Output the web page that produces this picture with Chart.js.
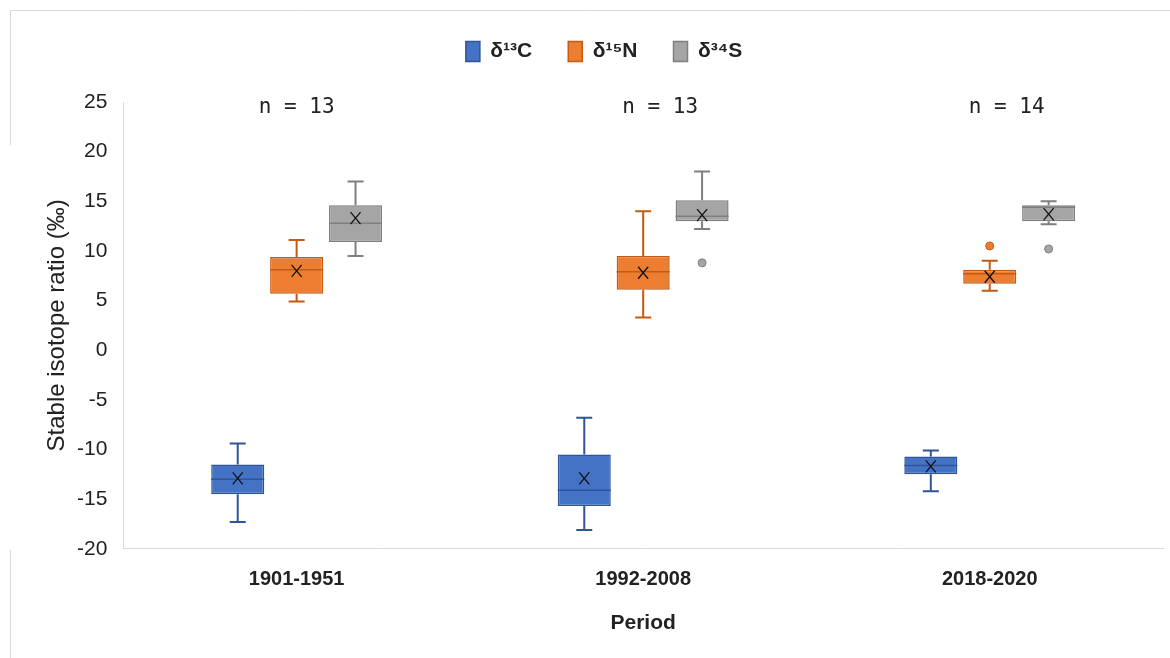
<!DOCTYPE html>
<html>
<head>
<meta charset="utf-8">
<script src="https://cdn.jsdelivr.net/npm/chart.js@4.4.1/dist/chart.umd.min.js"></script>
<style>
  html, body { margin: 0; padding: 0; background: #fff; }
  #wrap { width: 1170px; height: 658px; position: relative; }
</style>
</head>
<body>
<div id="wrap"><canvas id="chart" width="1170" height="658"></canvas></div>
<script>
// categories and counts
const periods = ['1901-1951', '1992-2008', '2018-2020'];
const sampleCounts = [13, 13, 14];
const seriesNames = ['δ¹³C', 'δ¹⁵N', 'δ³⁴S'];

// box plot values per series, one entry per period
const carbonMin    = [-17.3, -18.1, -14.2];
const carbonQ1     = [-14.5, -15.7, -12.5];
const carbonMedian = [-13.0, -14.1, -11.6];
const carbonQ3     = [-11.5, -10.5, -10.7];
const carbonMax    = [-9.4, -6.8, -10.1];
const carbonMean   = [-12.9, -12.9, -11.7];
const carbonOut    = [[], [], []];

const nitrogenMin    = [4.9, 3.3, 6.0];
const nitrogenQ1     = [5.7, 6.1, 6.7];
const nitrogenMedian = [8.1, 7.9, 7.7];
const nitrogenQ3     = [9.4, 9.5, 8.1];
const nitrogenMax    = [11.1, 14.0, 9.0];
const nitrogenMean   = [8.0, 7.8, 7.4];
const nitrogenOut    = [[], [], [10.5]];

const sulfurMin    = [9.5, 12.2, 12.7];
const sulfurQ1     = [10.9, 13.0, 13.0];
const sulfurMedian = [12.8, 13.5, 14.4];
const sulfurQ3     = [14.6, 15.1, 14.6];
const sulfurMax    = [17.0, 18.0, 15.0];
const sulfurMean   = [13.3, 13.6, 13.7];
const sulfurOut    = [[], [8.8], [10.2]];

const yTicks = { min: -20, max: 25, step: 5 };

const fills   = ['#4472C4', '#ED7D31', '#A5A5A5'];
const strokes = ['#2F5597', '#C55A11', '#7F7F7F'];

const stats = [
    { min: carbonMin, q1: carbonQ1, med: carbonMedian, q3: carbonQ3, max: carbonMax, mean: carbonMean, out: carbonOut },
    { min: nitrogenMin, q1: nitrogenQ1, med: nitrogenMedian, q3: nitrogenQ3, max: nitrogenMax, mean: nitrogenMean, out: nitrogenOut },
    { min: sulfurMin, q1: sulfurQ1, med: sulfurMedian, q3: sulfurQ3, max: sulfurMax, mean: sulfurMean, out: sulfurOut }
];

// legend needs extra room below it for the n = labels
const legendSpace = {
    id: 'legendSpace',
    beforeInit(chart) {
        const fit = chart.legend.fit;
        chart.legend.fit = function () {
            fit.bind(chart.legend)();
            this.height += 30;
        };
    }
};

// whiskers, medians, means, outliers and n labels
const boxExtras = {
    id: 'boxExtras',
    afterDatasetsDraw(chart) {
        const ctx = chart.ctx;
        const y = chart.scales.y;
        stats.forEach((s, di) => {
            const meta = chart.getDatasetMeta(di);
            meta.data.forEach((bar, i) => {
                const cx = bar.x;
                const half = bar.width / 2;
                ctx.save();
                ctx.strokeStyle = strokes[di];
                ctx.lineWidth = 2;
                ctx.beginPath();
                // upper whisker
                ctx.moveTo(cx, y.getPixelForValue(s.q3[i]));
                ctx.lineTo(cx, y.getPixelForValue(s.max[i]));
                ctx.moveTo(cx - 8, y.getPixelForValue(s.max[i]));
                ctx.lineTo(cx + 8, y.getPixelForValue(s.max[i]));
                // lower whisker
                ctx.moveTo(cx, y.getPixelForValue(s.q1[i]));
                ctx.lineTo(cx, y.getPixelForValue(s.min[i]));
                ctx.moveTo(cx - 8, y.getPixelForValue(s.min[i]));
                ctx.lineTo(cx + 8, y.getPixelForValue(s.min[i]));
                ctx.stroke();
                // median
                ctx.beginPath();
                ctx.lineWidth = 1.5;
                ctx.moveTo(cx - half, y.getPixelForValue(s.med[i]));
                ctx.lineTo(cx + half, y.getPixelForValue(s.med[i]));
                ctx.stroke();
                // mean marker
                const my = y.getPixelForValue(s.mean[i]);
                ctx.beginPath();
                ctx.strokeStyle = '#111';
                ctx.lineWidth = 1.3;
                ctx.moveTo(cx - 5, my - 6);
                ctx.lineTo(cx + 5, my + 6);
                ctx.moveTo(cx + 5, my - 6);
                ctx.lineTo(cx - 5, my + 6);
                ctx.stroke();
                // outliers
                s.out[i].forEach(v => {
                    ctx.beginPath();
                    ctx.fillStyle = fills[di];
                    ctx.strokeStyle = strokes[di];
                    ctx.lineWidth = 1;
                    ctx.arc(cx, y.getPixelForValue(v), 4, 0, Math.PI * 2);
                    ctx.fill();
                    ctx.stroke();
                });
                ctx.restore();
            });
        });

        // n = labels
        const x = chart.scales.x;
        ctx.save();
        ctx.font = '21px "DejaVu Sans Mono"';
        ctx.fillStyle = '#222';
        ctx.textAlign = 'center';
        ctx.textBaseline = 'middle';
        sampleCounts.forEach((n, i) => {
            ctx.fillText('n = ' + n, x.getPixelForValue(i) + (i === 0 ? 0 : 17), 108);
        });
        ctx.restore();
    },
    beforeDraw(chart) {
        // light frame of the original figure
        const ctx = chart.ctx;
        ctx.save();
        ctx.strokeStyle = '#d9d9d9';
        ctx.lineWidth = 1;
        ctx.beginPath();
        ctx.moveTo(10.5, 658);
        ctx.lineTo(10.5, 550);
        ctx.moveTo(10.5, 145);
        ctx.lineTo(10.5, 10.5);
        ctx.lineTo(1170, 10.5);
        ctx.stroke();
        ctx.restore();
    }
};

const datasets = stats.map((s, di) => ({
    label: seriesNames[di],
    data: s.q1.map((v, i) => [v, s.q3[i]]),
    backgroundColor: fills[di],
    borderColor: strokes[di],
    borderWidth: 1.5,
    borderSkipped: false,
    categoryPercentage: 0.51,
    barPercentage: 0.9
}));

new Chart(document.getElementById('chart'), {
    type: 'bar',
    data: { labels: periods, datasets: datasets },
    options: {
        responsive: false,
        animation: false,
        layout: { padding: { top: 5, right: 7, left: 45, bottom: 18 } },
        plugins: {
            legend: {
                position: 'top',
                labels: {
                    boxWidth: 14,
                    boxHeight: 20,
                    padding: 36,
                    color: '#222',
                    font: { family: '"Liberation Sans", Arial', size: 21, weight: 'bold' }
                }
            },
            tooltip: { enabled: false }
        },
        scales: {
            x: {
                grid: { display: false },
                border: { color: '#d9d9d9' },
                ticks: {
                    color: '#222',
                    padding: 11,
                    font: { family: '"Liberation Sans", Arial', size: 20, weight: 'bold' }
                },
                title: {
                    display: true,
                    text: 'Period',
                    color: '#222',
                    padding: { top: 8 },
                    font: { family: '"Liberation Sans", Arial', size: 21, weight: 'bold' }
                }
            },
            y: {
                min: yTicks.min,
                max: yTicks.max,
                grid: { display: false },
                border: { color: '#d9d9d9' },
                ticks: {
                    stepSize: yTicks.step,
                    color: '#222',
                    padding: 8,
                    font: { family: '"Liberation Sans", Arial', size: 21 }
                },
                title: {
                    display: true,
                    text: 'Stable isotope ratio (‰)',
                    color: '#222',
                    padding: 0,
                    font: { family: '"Liberation Sans", Arial', size: 24, lineHeight: 1 }
                }
            }
        }
    },
    plugins: [legendSpace, boxExtras]
});
</script>
</body>
</html>
